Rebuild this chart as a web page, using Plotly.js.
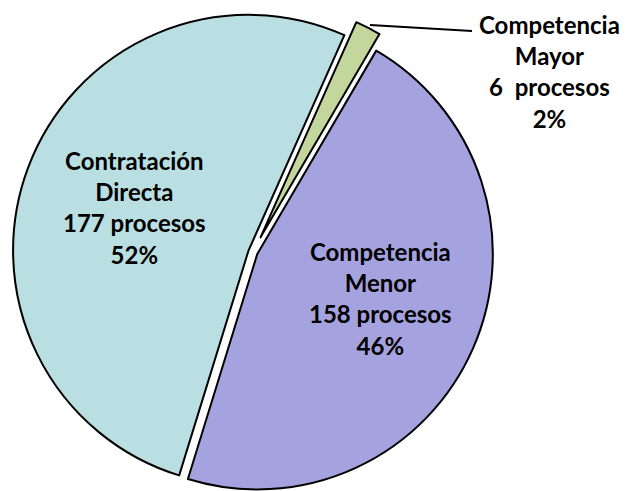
<!DOCTYPE html>
<html>
<head>
<meta charset="utf-8">
<script src="https://cdn.plot.ly/plotly-3.0.1.min.js"></script>
<style>
html, body { margin: 0; padding: 0; overflow: hidden; background: #ffffff; }
#chart { width: 627px; height: 504px; }
</style>
</head>
<body>
<div id="chart"></div>
<script>
// Data
const categories = ['Competencia Mayor', 'Competencia Menor', 'Contratación Directa'];
const values = [6, 158, 177];
const unitLabel = 'procesos';
const colors = ['#C3D69B', '#A5A3DF', '#B9DFE3'];

const total = values.reduce((a, b) => a + b, 0);
function labelText(i) {
  const words = categories[i].split(' ');
  const gap = values[i] < 10 ? '\u00a0 ' : ' ';
  const pct = Math.round(values[i] / total * 100) + '%';
  return words.join('<br>') + '<br>' + values[i] + gap + unitLabel + '<br>' + pct;
}

const W = 627, H = 504;
const labelPos = [ [549, 72], [381, 298], [134, 207] ];
const font = { family: 'Lato, "Open Sans", sans-serif', size: 24, color: '#000000', weight: 700 };

const annotations = categories.map((c, i) => ({
  xref: 'paper', yref: 'paper',
  x: labelPos[i][0] / W, y: 1 - labelPos[i][1] / H,
  xanchor: 'center', yanchor: 'middle',
  text: '<b>' + labelText(i) + '</b>',
  showarrow: false, align: 'center', font: font
}));

const trace = {
  type: 'pie',
  labels: categories,
  values: values,
  sort: false,
  direction: 'clockwise',
  rotation: 24,
  pull: [0.07, 0.02, 0.02],
  marker: { colors: colors, line: { color: '#000000', width: 2 } },
  textinfo: 'none',
  hoverinfo: 'label+value+percent',
  domain: { x: [1 / W, 505 / W], y: [0, 1] },
  showlegend: false
};

const layout = {
  width: W, height: H,
  margin: { l: 0, r: 0, t: 0, b: 0 },
  paper_bgcolor: '#ffffff', plot_bgcolor: '#ffffff',
  showlegend: false,
  annotations: annotations,
  shapes: [{
    type: 'line', xref: 'paper', yref: 'paper',
    x0: 370 / W, y0: 1 - 25 / H, x1: 472 / W, y1: 1 - 31 / H,
    line: { color: '#000000', width: 2 }
  }]
};

Plotly.newPlot('chart', [trace], layout, { displayModeBar: false, staticPlot: true });
</script>
</body>
</html>
